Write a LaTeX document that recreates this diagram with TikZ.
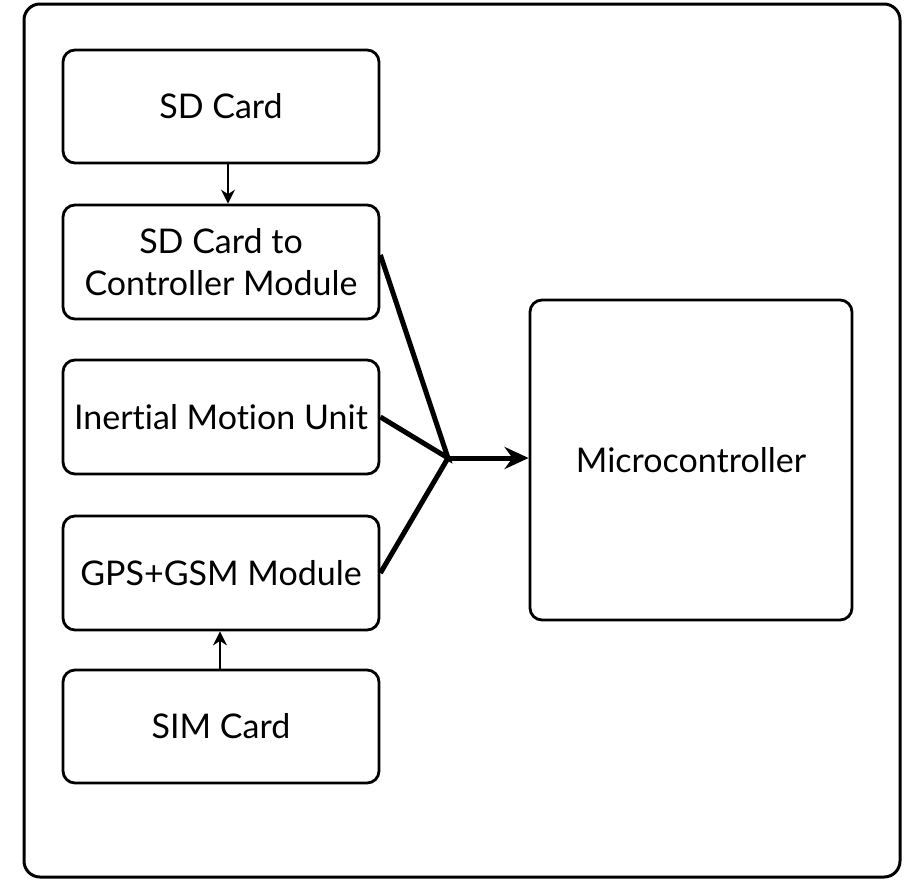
\documentclass[tikz,border=0pt]{standalone}
\usepackage{fontspec}
\setmainfont{Lato}[Ligatures={NoCommon,NoRare,NoContextual},Contextuals=NoAlternate]
\usetikzlibrary{arrows.meta}
\begin{document}
\begin{tikzpicture}[x=1pt,y=-1pt,
  box/.style={draw, line width=2.8pt, rounded corners=12pt, align=center, font=\fontsize{34}{42}\selectfont, inner sep=0pt},
  small/.style={draw, line width=2.2pt, -{Stealth[length=14pt,width=14pt]}},
  big/.style={draw, line width=5pt, line join=miter},
]
\useasboundingbox (0,0) rectangle (912,879);
\draw[line width=3pt, rounded corners=16pt] (24,4) rectangle (900,877);
\node[box, minimum width=316pt, minimum height=113pt] (sd) at (221,106.5) {SD Card};
\node[box, minimum width=316pt, minimum height=114pt] (sdc) at (221,262) {SD Card to\\Controller Module};
\node[box, minimum width=316pt, minimum height=114pt] (imu) at (221,417) {Inertial Motion Unit};
\node[box, minimum width=316pt, minimum height=114pt] (gps) at (221,573) {GPS+GSM Module};
\node[box, minimum width=316pt, minimum height=113pt] (sim) at (221,726.5) {SIM Card};
\node[box, minimum width=322pt, minimum height=320pt] (mc) at (691,460) {Microcontroller};
\coordinate (j) at (448,458);
\draw[small] (sd.south -| 228,0) -- (sdc.north -| 228,0);
\draw[small] (sim.north -| 220,0) -- (gps.south -| 220,0);
\draw[big] ([yshift=7pt]sdc.east) -- (j) -- (imu.east);
\draw[big] (gps.east) -- (j);
\draw[big, -{Stealth[length=24pt,width=22pt]}] (j) -- (mc.west |- j);
\end{tikzpicture}
\end{document}
